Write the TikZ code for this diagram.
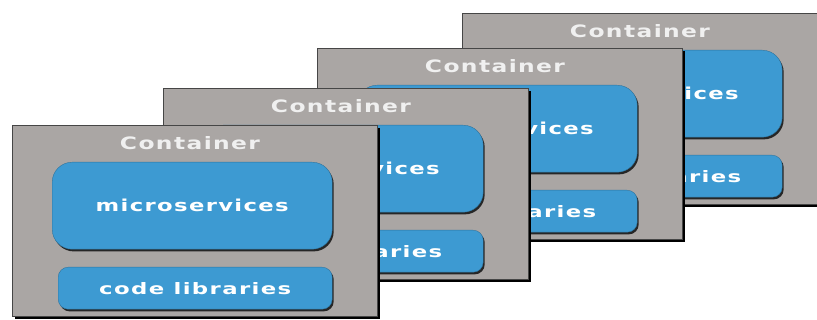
\documentclass[tikz,border=0pt]{standalone}
\usepackage{fontspec}
\setmainfont{DejaVu Sans}
\newfontfamily\spacedfont[LetterSpace=6]{DejaVu Sans}
\usetikzlibrary{shadows}
\definecolor{contgray}{RGB}{170,166,164}
\definecolor{contedge}{RGB}{70,70,70}
\definecolor{msblue}{RGB}{61,154,210}
\begin{document}
\begin{tikzpicture}[x=1pt,y=-1pt,
  container/.style={draw=contedge, line width=1.2pt, fill=contgray, anchor=north west,
    minimum width=365pt, minimum height=191pt, inner sep=0pt,
    general shadow={fill=black, shadow xshift=2.5pt, shadow yshift=-2.5pt}},
  ctitle/.style={text=white!94!black, inner sep=0pt},
  svcbox/.style={fill=msblue, draw=msblue!75!black, line width=0.4pt, rounded corners=20pt,
    anchor=north west, minimum width=280pt, minimum height=87pt, inner sep=0pt, text=white,
    general shadow={fill=black!85, shadow xshift=1.5pt, shadow yshift=-2.2pt}},
  libbox/.style={fill=msblue, draw=msblue!75!black, line width=0.4pt, rounded corners=10pt,
    anchor=north west, minimum width=274pt, minimum height=42pt, inner sep=0pt, text=white,
    general shadow={fill=black!85, shadow xshift=1.5pt, shadow yshift=-2.2pt}}
]
\useasboundingbox (0,0) rectangle (817,320);
\clip (0,0) rectangle (817,320);
\foreach \cx/\cy/\n in {462/13/4, 317/48/3, 163/88/2, 12/125/1} {
  \begin{scope}[shift={(\cx,\cy)}]
    \node[container] (c\n) at (0,0) {};
    \node[ctitle] (t\n) at (178,18) {\resizebox{140pt}{13pt}{\spacedfont\bfseries Container}};
    \node[svcbox] (m\n) at (40,37) {\resizebox{193pt}{12.5pt}{\spacedfont\bfseries microservices}};
    \node[libbox] (l\n) at (46,142) {\resizebox{192pt}{12pt}{\spacedfont\bfseries code libraries}};
  \end{scope}
}
\end{tikzpicture}
\end{document}
